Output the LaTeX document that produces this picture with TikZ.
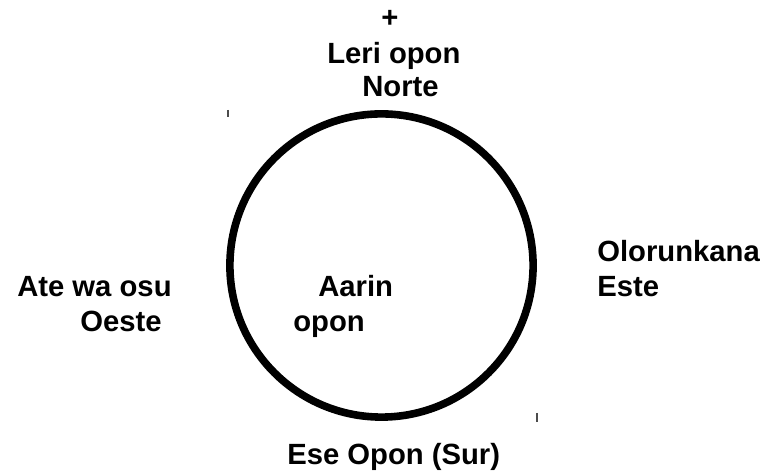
\documentclass[tikz,border=0pt]{standalone}
\usepackage{fontspec}
\setmainfont{Liberation Sans}
\usepackage{tikz}
\usetikzlibrary{positioning}

\begin{document}
\begin{tikzpicture}[
    lbl/.style={anchor=base west,inner sep=0pt,font=\fontsize{20.8}{25}\selectfont\bfseries},
    tick/.style={draw=black!70,line width=1pt}]
  \useasboundingbox (0,0) rectangle (19.075,11.9);
  % the board
  \draw[line width=5.4pt] (9.5375,5.2625) circle[radius=3.79cm];
  \node[lbl,anchor=center] (plus) at (9.75,11.425) {+};
  \node[lbl] (leri) at (8.175,10.3) {Leri opon};
  \node[lbl] (norte) at (9.05,9.475) {Norte};
  \node[lbl] (olorun) at (14.925,5.35) {Olorunkana};
  \node[lbl] (este) at (14.925,4.475) {Este};
  \node[lbl] (atewa) at (0.425,4.475) {Ate wa osu};
  \node[lbl] (oeste) at (2.0,3.6) {Oeste};
  \node[lbl] (aarin) at (7.95,4.475) {Aarin};
  \node[lbl] (opon) at (7.325,3.6) {opon};
  \node[lbl] (ese) at (7.175,0.275) {Ese Opon (Sur)};
  % corner marks
  \draw[tick] (5.7,9.15) -- (5.7,8.975);
  \draw[tick] (13.425,1.575) -- (13.425,1.35);
\end{tikzpicture}
\end{document}
